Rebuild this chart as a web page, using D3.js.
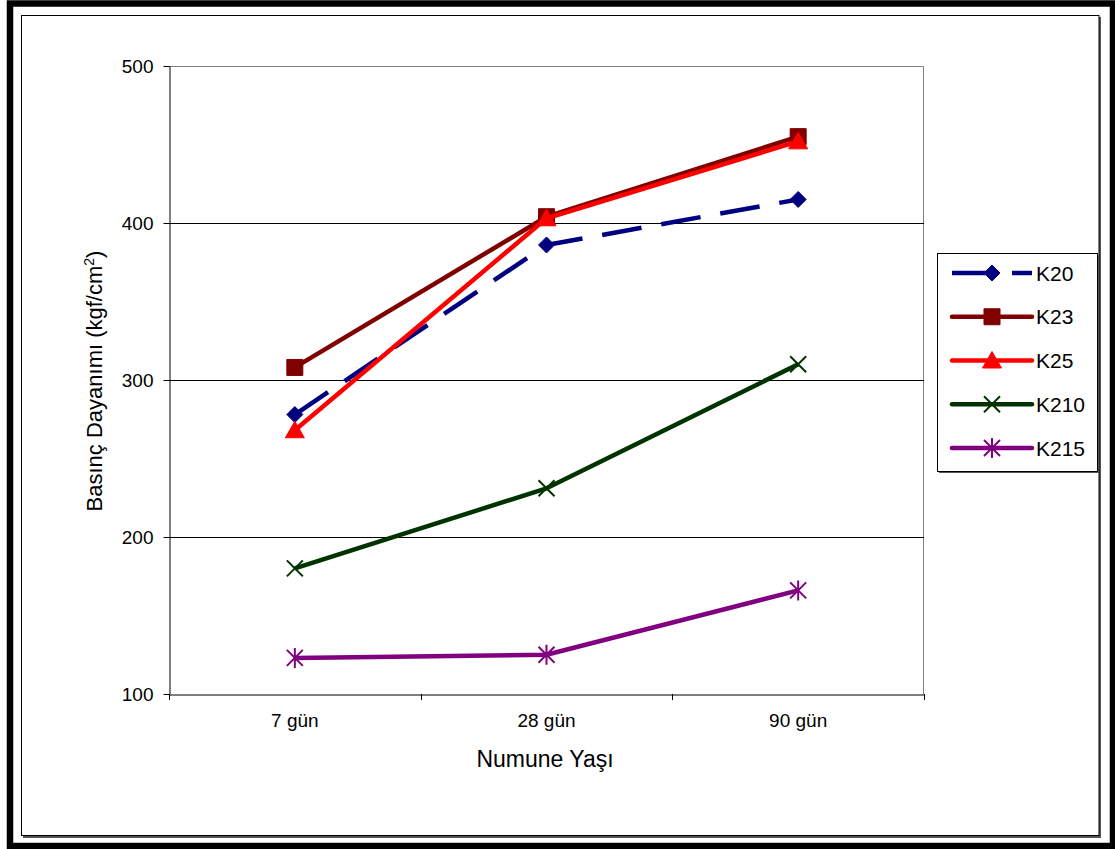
<!DOCTYPE html>
<html><head><meta charset="utf-8">
<script src="https://cdn.jsdelivr.net/npm/d3@7"></script>
<style>
body{margin:0;background:#fff}
svg{display:block;font-family:Arial,"Liberation Sans",sans-serif}
</style>
</head><body>
<svg id="c" width="1115" height="849"></svg>
<script>
const categories = ["7 gün", "28 gün", "90 gün"];
const seriesNames = ["K20", "K23", "K25", "K210", "K215"];
const k20 = [278, 386, 415];
const k23 = [308, 404, 455];
const k25 = [268, 403, 452];
const k210 = [180, 231, 310];
const k215 = [123, 125, 166];
const yTicks = [100, 200, 300, 400, 500];
const yTitle = "Basınç Dayanımı (kgf/cm";
const xTitle = "Numune Yaşı";

const seriesValues = [k20, k23, k25, k210, k215];
const colors = ["#000080", "#800000", "#FF0000", "#003300", "#800080"];
const markers = ["diamond", "square", "triangle", "x", "star"];
const dashes = ["40,20", null, null, null, null];

const svg = d3.select("#c");
const W = 1115, H = 849;
const L = 169, R = 924, T = 66, B = 694;

// frames
svg.append("rect").attr("x", 10).attr("y", 3.5).attr("width", 1103).attr("height", 842.5)
  .attr("fill", "none").attr("stroke", "#000").attr("stroke-width", 6.5);
svg.append("path").attr("d", "M1100,17V837H23").attr("fill", "none").attr("stroke", "#555").attr("stroke-width", 2);
svg.append("rect").attr("x", 21.5).attr("y", 15.5).attr("width", 1077.5).attr("height", 820)
  .attr("fill", "#fff").attr("stroke", "#000").attr("stroke-width", 1);

const x = d3.scaleBand().domain(categories).range([L, R]).padding(0);
const y = d3.scaleLinear().domain([100, 500]).range([B, T]);
const bw = x.bandwidth();

// plot border (top/right gray)
svg.append("path").attr("d", `M${L},${T + 0.5}H${R - 0.5}V${B}`)
  .attr("fill", "none").attr("stroke", "#808080").attr("stroke-width", 1);

// gridlines
svg.append("g").selectAll("line").data(yTicks.filter(v => v > 100 && v < 500)).join("line")
  .attr("x1", L).attr("x2", R)
  .attr("y1", d => Math.round(y(d)) + 0.5).attr("y2", d => Math.round(y(d)) + 0.5)
  .attr("stroke", "#000").attr("stroke-width", 1);

// y axis
const ya = svg.append("g").attr("transform", `translate(${L + 0.5},0)`)
  .call(d3.axisLeft(y).tickValues(yTicks).tickSize(6).tickPadding(10).tickSizeOuter(0));
ya.select(".domain").attr("stroke", "#000");
ya.selectAll("text").attr("font-size", 19).attr("fill", "#000").attr("font-family", "Arial, 'Liberation Sans', sans-serif");
ya.selectAll("line").attr("stroke", "#000");

// x axis
const xa = svg.append("g").attr("transform", `translate(0,${B + 0.5})`)
  .call(d3.axisBottom(x).tickSize(0).tickPadding(19.5).tickSizeOuter(0));
xa.select(".domain").attr("stroke", "#000");
xa.selectAll("text").attr("font-size", 19).attr("fill", "#000").attr("font-family", "Arial, 'Liberation Sans', sans-serif");
const bounds = categories.map(c => x(c)).concat([x(categories[categories.length - 1]) + bw]);
svg.append("g").selectAll("line").data(bounds).join("line")
  .attr("x1", d => Math.round(d) + 0.5).attr("x2", d => Math.round(d) + 0.5)
  .attr("y1", B).attr("y2", B + 6).attr("stroke", "#000");

// titles
const yt = svg.append("text").attr("transform", "translate(102,381) rotate(-90)")
  .attr("text-anchor", "middle").attr("font-size", 22).attr("fill", "#000");
yt.append("tspan").text(yTitle);
yt.append("tspan").attr("dy", -8).attr("font-size", 14).text("2");
yt.append("tspan").attr("dy", 8).text(")");
svg.append("text").attr("x", 545).attr("y", 767).attr("text-anchor", "middle")
  .attr("font-size", 23).attr("fill", "#000").text(xTitle);

// marker shapes
function markerPath(type) {
  switch (type) {
    case "diamond": return "M0,-8L8,0L0,8L-8,0Z";
    case "square": return "M-8,-8H8V8H-8Z";
    case "triangle": return "M0,-9L9.5,7.5L-9.5,7.5Z";
    case "x": return "M-8,-8L8,8M8,-8L-8,8";
    case "star": return "M-8,-8L8,8M8,-8L-8,8M0,-10V10";
  }
}
function drawMarker(g, type, color) {
  const filled = (type === "diamond" || type === "square" || type === "triangle");
  g.append("path").attr("d", markerPath(type))
    .attr("fill", filled ? color : "none")
    .attr("stroke", color).attr("stroke-width", filled ? 1 : 2);
}

// series
const line = d3.line().x((d, i) => x(categories[i]) + bw / 2).y(d => y(d));
const order = [3, 4, 0, 1, 2];
order.forEach(si => {
  const vals = seriesValues[si];
  svg.append("path").attr("d", line(vals)).attr("fill", "none")
    .attr("stroke", colors[si]).attr("stroke-width", 4.5)
    .attr("stroke-linejoin", "round")
    .attr("stroke-dasharray", dashes[si]);
  vals.forEach((v, i) => {
    const g = svg.append("g").attr("transform", `translate(${x(categories[i]) + bw / 2},${y(v)})`);
    drawMarker(g, markers[si], colors[si]);
  });
});

// legend
svg.append("rect").attr("x", 939).attr("y", 255).attr("width", 160).attr("height", 218).attr("fill", "#555");
svg.append("rect").attr("x", 937.5).attr("y", 253.5).attr("width", 160).attr("height", 218)
  .attr("fill", "#fff").attr("stroke", "#000");
seriesNames.forEach((name, si) => {
  const ly = 273 + si * 43.75;
  svg.append("line").attr("x1", 952).attr("x2", 1032).attr("y1", ly).attr("y2", ly)
    .attr("stroke", colors[si]).attr("stroke-width", 4.5)
    .attr("stroke-linecap", dashes[si] ? "butt" : "round")
    .attr("stroke-dasharray", dashes[si]);
  const g = svg.append("g").attr("transform", `translate(992,${ly})`);
  drawMarker(g, markers[si], colors[si]);
  svg.append("text").attr("x", 1036).attr("y", ly).attr("dy", "0.36em")
    .attr("font-size", 21).attr("fill", "#000").text(name);
});
</script>
</body></html>
